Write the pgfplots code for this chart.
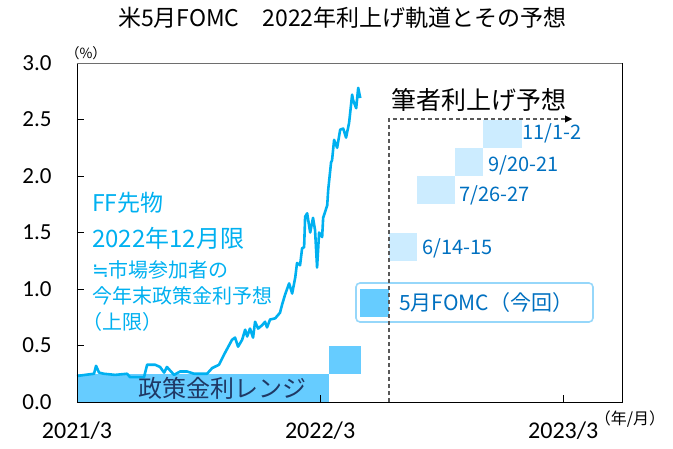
\documentclass[border=0pt]{standalone}
\usepackage{pgfplots}
\pgfplotsset{compat=1.18}
\usepackage{fontspec}
\setmainfont{Noto Sans CJK JP}
\newfontfamily\calfont{Carlito}
\newfontfamily\djv{DejaVu Sans}
\usetikzlibrary{arrows.meta}

\definecolor{lineblue}{RGB}{0,176,240}
\definecolor{barblue}{RGB}{102,204,255}
\definecolor{fcblue}{RGB}{204,236,255}
\definecolor{lblblue}{RGB}{0,112,192}
\definecolor{navy}{RGB}{31,56,100}
\definecolor{topgray}{RGB}{110,110,110}
\definecolor{boxblue}{RGB}{150,215,250}

\newcommand{\fs}[1]{\fontsize{#1}{#1}\selectfont}

\begin{document}
\begin{tikzpicture}
\useasboundingbox (-77pt,-46pt) rectangle (596pt,402pt);
\begin{axis}[
  at={(0,0)}, anchor=south west,
  scale only axis, width=545pt, height=339pt,
  xmin=0, xmax=26.9, ymin=0, ymax=3,
  xtick={0,12,24}, xticklabels={2021/3,2022/3,2023/3},
  ytick={0,0.5,1,1.5,2,2.5,3},
  xtick pos=bottom, ytick pos=left,
  tick align=inside,
  major tick length=7pt,
  tick style={black, line width=0.8pt},
  axis line style={black, line width=0.8pt},
  /pgf/number format/.cd, fixed, fixed zerofill, precision=1, assume math mode=true,
  /pgfplots/.cd,
  xticklabel style={font=\calfont\fs{24}, yshift=-16pt},
  yticklabel style={font=\calfont\fs{23}, xshift=-22pt},
  axis on top,
  clip=false,
]
% policy rate range
\addplot[fill=barblue, draw=none] coordinates {(0,0) (12.44,0) (12.44,0.25) (0,0.25)} -- cycle;
\addplot[fill=barblue, draw=none] coordinates {(12.44,0.25) (14.0,0.25) (14.0,0.5) (12.44,0.5)} -- cycle;
\addplot[fill=barblue, draw=none] coordinates {(13.95,0.75) (15.41,0.75) (15.41,1.0) (13.95,1.0)} -- cycle;
% forecast
\addplot[fill=fcblue, draw=none] coordinates {(15.41,1.25) (16.79,1.25) (16.79,1.5) (15.41,1.5)} -- cycle;
\addplot[fill=fcblue, draw=none] coordinates {(16.79,1.75) (18.67,1.75) (18.67,2.0) (16.79,2.0)} -- cycle;
\addplot[fill=fcblue, draw=none] coordinates {(18.67,2.0) (20.05,2.0) (20.05,2.25) (18.67,2.25)} -- cycle;
\addplot[fill=fcblue, draw=none] coordinates {(20.05,2.25) (21.98,2.25) (21.98,2.5) (20.05,2.5)} -- cycle;
% FF futures Dec 2022
\addplot[lineblue, line width=2.6pt, line join=round] coordinates {
(0,0.23) (0.40,0.24) (0.84,0.25) (0.94,0.32) (1.09,0.26) (1.33,0.25) (1.88,0.24)
(2.47,0.25) (2.62,0.22) (3.31,0.22) (3.46,0.33) (3.85,0.33) (4.10,0.31) (4.30,0.26)
(4.44,0.31) (4.79,0.24) (5.09,0.27) (5.43,0.27) (5.78,0.25) (6.42,0.25) (6.67,0.30)
(7.01,0.33) (7.26,0.42) (7.41,0.47) (7.65,0.55) (7.80,0.57) (7.95,0.49) (8.15,0.55)
(8.30,0.64) (8.40,0.58) (8.54,0.65) (8.69,0.57) (8.79,0.71) (8.94,0.65) (9.14,0.68)
(9.28,0.71) (9.38,0.66) (9.53,0.73) (9.78,0.74) (10.02,0.79) (10.12,0.86) (10.27,0.95)
(10.47,1.05) (10.62,0.96) (10.77,1.10) (10.86,1.23) (11.01,1.21) (11.11,1.36) (11.21,1.37)
(11.26,1.64) (11.36,1.67) (11.51,1.50) (11.65,1.63) (11.75,1.52) (11.85,1.19) (11.95,1.50)
(12.10,1.46) (12.15,1.63) (12.35,1.74) (12.40,1.88) (12.54,2.12) (12.59,2.14) (12.69,2.32)
(12.84,2.25) (12.99,2.41) (13.14,2.42) (13.28,2.34) (13.43,2.47) (13.58,2.72) (13.63,2.67)
(13.78,2.60) (13.88,2.78) (13.98,2.69)
};
\end{axis}
\draw[topgray, line width=0.8pt] (current axis.north west) -- (current axis.north east);
% annotations
\node[font=\fs{23}] at (265pt,384pt) {米5月FOMC　2022年利上げ軌道とその予想};
\node[font=\fs{14}] at (9pt,349pt) {（\%）};
\node[font=\fs{16}] at (553pt,-17pt) {（年/月）};
\node[font=\fs{24}, text=navy] at (146pt,14pt) {政策金利レンジ};
\begin{scope}[every node/.style={anchor=west, inner sep=0pt, text=lineblue}]
\node[font=\fs{23}] at (15pt,199pt) {FF先物};
\node[font=\fs{24}] at (15pt,164pt) {2022年12月限};
\node[font=\fs{20}] at (15pt,132pt) {{\djv ≒}市場参加者の};
\node[font=\fs{20}] at (15pt,106pt) {今年末政策金利予想};
\node[font=\fs{20}] at (5pt,80pt) {（上限）};
\end{scope}
\node[font=\fs{25}] at (402pt,302pt) {筆者利上げ予想};
\begin{scope}[every node/.style={anchor=west, inner sep=0pt, text=lblblue, font=\fs{20}}]
\node at (345pt,154pt) {6/14-15};
\node at (382pt,207pt) {7/26-27};
\node at (411pt,237pt) {9/20-21};
\node at (445pt,269pt) {11/1-2};
\node[font=\fs{21}] at (322pt,99pt) {5月FOMC（今回）};
\end{scope}
\draw[boxblue, line width=1.6pt, rounded corners=4pt] (279pt,80pt) rectangle (516pt,119pt);
\draw[black!65, line width=1.1pt, dash pattern=on 4pt off 3pt] (312pt,0pt) -- (312pt,283pt) -- (490pt,283pt);
\draw[-{Triangle[length=7pt,width=7pt]}, black] (488pt,283pt) -- (495pt,283pt);
\end{tikzpicture}
\end{document}
